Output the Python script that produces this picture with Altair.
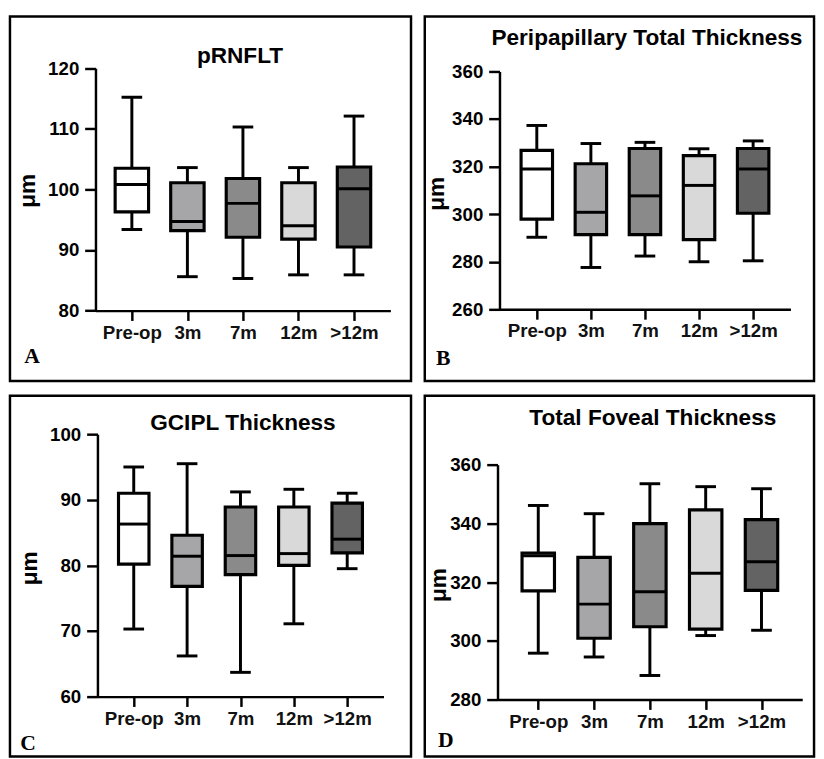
import altair as alt
import pandas as pd

categories = ["Pre-op", "3m", "7m", "12m", ">12m"]
box_colors = ["#ffffff", "#a6a6a8", "#8a8a8a", "#d9d9d9", "#636363"]

# Panel A: pRNFLT
a_min = [93.4, 85.6, 85.3, 85.9, 85.9]
a_q1 = [96.3, 93.2, 92.1, 91.8, 90.5]
a_med = [100.8, 94.7, 97.7, 94.0, 100.1]
a_q3 = [103.5, 101.1, 101.8, 101.1, 103.7]
a_max = [115.2, 103.6, 110.3, 103.6, 112.1]

# Panel B: Peripapillary Total Thickness
b_min = [290.3, 277.6, 282.4, 280.0, 280.4]
b_q1 = [297.9, 291.4, 291.4, 289.3, 300.4]
b_med = [319.0, 300.8, 307.7, 312.1, 319.0]
b_q3 = [326.8, 321.2, 327.6, 324.6, 327.6]
b_max = [337.3, 329.7, 330.2, 327.5, 330.8]

# Panel C: GCIPL Thickness
c_min = [70.3, 66.2, 63.7, 71.1, 79.5]
c_q1 = [80.2, 76.8, 78.6, 80.0, 81.9]
c_med = [86.3, 81.4, 81.5, 81.8, 84.0]
c_q3 = [91.0, 84.6, 88.9, 88.9, 89.5]
c_max = [95.0, 95.5, 91.2, 91.6, 91.0]

# Panel D: Total Foveal Thickness
d_min = [295.8, 294.5, 288.2, 301.8, 303.6]
d_q1 = [317.0, 300.9, 304.8, 304.0, 317.2]
d_med = [329.0, 312.5, 316.7, 323.0, 326.9]
d_q3 = [329.9, 328.4, 339.9, 344.6, 341.3]
d_max = [346.1, 343.3, 353.5, 352.5, 351.8]

a_ticks = [80, 90, 100, 110, 120]
b_ticks = [260, 280, 300, 320, 340, 360]
c_ticks = [60, 70, 80, 90, 100]
d_ticks = [280, 300, 320, 340, 360]

SANS = "Liberation Sans"
SERIF = "Liberation Serif"


def make_df(mn, q1, med, q3, mx):
    return pd.DataFrame({"cat": categories, "mn": mn, "q1": q1, "med": med, "q3": q3, "mx": mx})


def panel(df, title, letter, ticks, w, h, yx, ylo, yhi, xend, pad, box,
          tdx, tbase, ytx, yty, lx, ly):
    xs = alt.Scale(type="point", domain=categories, range=[yx, xend], padding=pad)
    ys = alt.Scale(domain=[ticks[0], ticks[-1]], range=[ylo, yhi], nice=False, zero=False)
    xax = alt.Axis(orient="bottom", offset=ylo - h, title=letter, titleX=lx, titleY=ly - ylo,
                   titleAlign="left", titleBaseline="alphabetic", titleAngle=0,
                   titleFont=SERIF, titleFontSize=22, titleFontWeight="bold", titleColor="black",
                   labelFont=SANS, labelFontSize=19, labelFontWeight="bold", labelColor="#111111",
                   labelAngle=0, labelPadding=3, tickSize=10, tickWidth=2.5, tickColor="black",
                   domainWidth=2.5, domainColor="black", grid=False)
    yax = alt.Axis(orient="left", offset=-yx, values=ticks, title="μm", titleX=ytx - yx, titleY=yty,
                   titleAngle=270, titleAlign="center", titleBaseline="bottom",
                   titleFont=SANS, titleFontSize=23, titleFontWeight="bold", titleColor="black",
                   labelFont=SANS, labelFontSize=19, labelFontWeight="bold", labelColor="black",
                   labelPadding=6, tickSize=11, tickWidth=2.5, tickColor="black",
                   domainWidth=2.5, domainColor="black", grid=False)
    base = alt.Chart(df)
    x = alt.X("cat:N", scale=xs, axis=xax, sort=categories)
    color = alt.Color("cat:N", scale=alt.Scale(domain=categories, range=box_colors), legend=None)
    whisk = base.mark_rule(color="black", strokeWidth=3, opacity=1).encode(
        x=x, y=alt.Y("mn:Q", scale=ys, axis=yax), y2="mx:Q")
    bars = base.mark_bar(size=box, stroke="black", strokeWidth=3.2, opacity=1).encode(
        x=x, y=alt.Y("q1:Q", scale=ys), y2="q3:Q", color=color)
    med = base.mark_tick(size=box, thickness=3, color="black", opacity=1).encode(
        x=x, y=alt.Y("med:Q", scale=ys))
    cap_lo = base.mark_tick(size=21, thickness=3, color="black", opacity=1).encode(
        x=x, y=alt.Y("mn:Q", scale=ys))
    cap_hi = base.mark_tick(size=21, thickness=3, color="black", opacity=1).encode(
        x=x, y=alt.Y("mx:Q", scale=ys))
    return alt.layer(whisk, bars, med, cap_lo, cap_hi).properties(
        width=w, height=h,
        title=alt.TitleParams(text=title, anchor="middle", frame="group", dx=tdx, offset=-tbase,
                              baseline="alphabetic", font=SANS, fontSize=23, fontWeight="bold",
                              color="black"),
    )


pa = panel(make_df(a_min, a_q1, a_med, a_q3, a_max), "pRNFLT", "A", a_ticks,
           408, 371, 87, 299.3, 52.7, 387, 0.655, 34, 30, 70, 30, 177, 14, 352)
pb = panel(make_df(b_min, b_q1, b_med, b_q3, b_max), "Peripapillary Total Thickness", "B", b_ticks,
           396, 371, 76, 298, 56, 372, 0.69, 32, 28, 52, 24, 180, 11, 354)
pc = panel(make_df(c_min, c_q1, c_med, c_q3, c_max), "GCIPL  Thickness", "C", c_ticks,
           408, 367, 89, 306, 39, 380, 0.68, 31, 33, 58, 32, 175, 10, 360)
pd_ = panel(make_df(d_min, d_q1, d_med, d_q3, d_max), "Total Foveal Thickness", "D", d_ticks,
            396, 367, 74, 309, 70, 384, 0.73, 33, 34, 53, 26, 192, 13, 357)

chart = alt.vconcat(
    alt.hconcat(pa, pb, spacing=10),
    alt.hconcat(pc, pd_, spacing=10),
    spacing=11,
).properties(padding=0, background="white").configure_view(
    stroke="black", strokeWidth=2.5, fill="white"
)

chart.save("out.html", embed_options={"renderer": "svg", "actions": False})
